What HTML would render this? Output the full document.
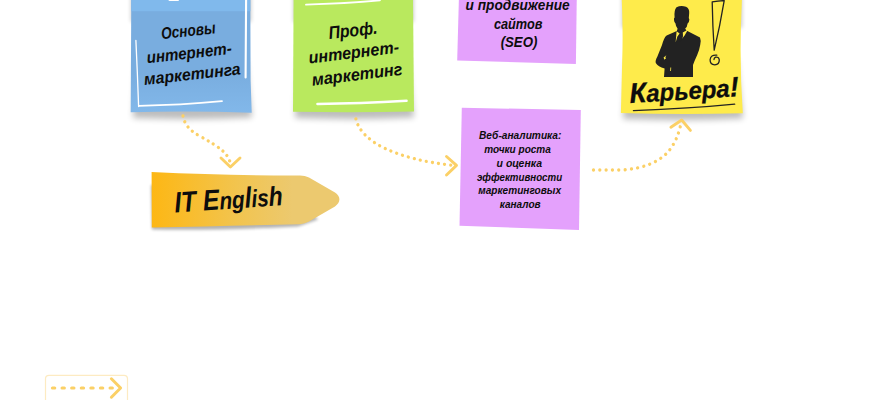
<!DOCTYPE html>
<html lang="ru">
<head>
<meta charset="utf-8">
<title>Карьера в интернет-маркетинге</title>
<style>
html,body{margin:0;padding:0;background:#fff;}
body{width:870px;height:400px;overflow:hidden;position:relative;}
svg{position:absolute;left:0;top:0;display:block;}
.hw{font-family:"Liberation Sans","DejaVu Sans",sans-serif;font-weight:bold;font-style:italic;fill:#0d0d0d;}
.arrow{fill:none;stroke:#fbd066;stroke-linecap:round;stroke-linejoin:round;}
</style>
</head>
<body>
<svg width="870" height="400" viewBox="0 0 870 400">
<defs>
  <filter id="blur3" x="-20%" y="-20%" width="140%" height="160%"><feGaussianBlur stdDeviation="3"/></filter>
  <filter id="blur2" x="-20%" y="-20%" width="140%" height="160%"><feGaussianBlur stdDeviation="2"/></filter>
  <linearGradient id="gOrange" x1="0" y1="0" x2="1" y2="0">
    <stop offset="0" stop-color="#fdb714"/>
    <stop offset="0.45" stop-color="#f2c44e"/>
    <stop offset="0.75" stop-color="#ecc96f"/>
    <stop offset="1" stop-color="#ecc96f"/>
  </linearGradient>
  <linearGradient id="gBlue" gradientUnits="userSpaceOnUse" x1="0" y1="11" x2="0" y2="113">
    <stop offset="0" stop-color="#79addf"/>
    <stop offset="0.6" stop-color="#79addf"/>
    <stop offset="1" stop-color="#82b8ea"/>
  </linearGradient>
  <filter id="blur15" x="-20%" y="-20%" width="140%" height="160%"><feGaussianBlur stdDeviation="1.6"/></filter>
</defs>

<!-- ===== blue note ===== -->
<rect x="131" y="-12" width="120" height="34" fill="#000" opacity="0.22" filter="url(#blur2)"/>
<path d="M136 60 L246 60 L252 117.5 Q192 120.5 133 118 Z" fill="#000" opacity="0.26" filter="url(#blur3)"/>
<path d="M131.3 -5 L250.3 -5 L250.6 80 L251.7 112.7 Q190 110.6 130.7 112.2 Z" fill="url(#gBlue)"/>
<path d="M131.3 -5 L250.3 -5 L250.35 11.3 L131.3 11.3 Z" fill="#80b9ec"/>
<g fill="none" stroke="#fff" stroke-linecap="round">
  <path d="M135.9 40.5 L137.3 72 L138.6 106.5" stroke-width="1.3"/>
  <path d="M139 105.8 Q180 105.2 222 101.2" stroke-width="1.8"/>
  <path d="M246.1 -2 L245.6 77.5" stroke-width="2.1"/>
  <path d="M169.5 0 L178 0" stroke-width="2"/>
</g>
<g class="hw" font-size="16.5">
  <text transform="translate(161.8 39.2) rotate(-6.3)" textLength="54.5" lengthAdjust="spacingAndGlyphs">Основы</text>
  <text transform="translate(147.2 63.2) rotate(-6.3)" textLength="85.5" lengthAdjust="spacingAndGlyphs">интернет-</text>
  <text transform="translate(144.6 85) rotate(-6.3)" textLength="97" lengthAdjust="spacingAndGlyphs">маркетинга</text>
</g>

<!-- ===== green note ===== -->
<rect x="293.5" y="-12" width="120" height="34" fill="#000" opacity="0.22" filter="url(#blur2)"/>
<path d="M298 60 L408 60 L414 117.5 Q355 120.5 295 118 Z" fill="#000" opacity="0.26" filter="url(#blur3)"/>
<path d="M293.6 -5 L413 -5 L414 111.5 Q352 112.7 293 111.7 Z" fill="#b9e95e"/>
<g fill="none" stroke="#fff" stroke-linecap="round">
  <path d="M306 4.6 Q345 3.5 380 0.3" stroke-width="1.8"/>
  <path d="M317.5 104 Q360 103.5 406.5 100.8" stroke-width="2.6"/>
</g>
<g class="hw" font-size="17">
  <text transform="translate(329.2 39) rotate(-6.3)" textLength="49" lengthAdjust="spacingAndGlyphs" font-size="18">Проф.</text>
  <text transform="translate(309.2 63.6) rotate(-7)" textLength="91" lengthAdjust="spacingAndGlyphs">интернет-</text>
  <text transform="translate(312.5 85.7) rotate(-7)" textLength="91" lengthAdjust="spacingAndGlyphs">маркетинг</text>
</g>

<!-- ===== purple note 1 ===== -->
<path d="M459 -5 L576.8 -5 L575.9 64.1 L457.2 60.4 Z" fill="#e4a1fc"/>
<g class="hw" font-size="15" text-anchor="middle">
  <text x="517.5" y="-8.7" textLength="98" lengthAdjust="spacingAndGlyphs">Создание</text>
  <text x="517.6" y="9.8" textLength="104" lengthAdjust="spacingAndGlyphs">и продвижение</text>
  <text x="518.2" y="29" textLength="48.5" lengthAdjust="spacingAndGlyphs">сайтов</text>
  <text x="519" y="47" textLength="36.7" lengthAdjust="spacingAndGlyphs">(SEO)</text>
</g>

<!-- ===== purple note 2 ===== -->
<path d="M461.8 107.7 L580.8 110 L579 230 L459.5 225.8 Z" fill="#e4a1fc"/>
<g class="hw" font-size="10.4" lengthAdjust="spacingAndGlyphs">
  <text x="479" y="139.4" textLength="82.4" lengthAdjust="spacingAndGlyphs">Веб-аналитика:</text>
  <text x="484.3" y="153.2" textLength="66.5" lengthAdjust="spacingAndGlyphs">точки роста</text>
  <text x="496.6" y="166.9" textLength="45.4" lengthAdjust="spacingAndGlyphs">и оценка</text>
  <text x="477.1" y="180.6" textLength="85" lengthAdjust="spacingAndGlyphs">эффективности</text>
  <text x="478.3" y="194.2" textLength="82.7" lengthAdjust="spacingAndGlyphs">маркетинговых</text>
  <text x="499.7" y="207.9" textLength="40.9" lengthAdjust="spacingAndGlyphs">каналов</text>
</g>

<!-- ===== yellow note ===== -->
<rect x="622" y="-12" width="120" height="40" fill="#000" opacity="0.22" filter="url(#blur2)"/>
<path d="M626 60 L737 60 L743 118.5 Q682 121.5 623 119 Z" fill="#000" opacity="0.26" filter="url(#blur3)"/>
<path d="M621.6 -5 Q623.2 35 622.2 60 L620.9 113 Q681 114.8 742.8 113.2 Q738.7 55 742.2 -5 Z" fill="#feeb4b"/>
<!-- businessman silhouette -->
<path fill="#222" d="M676.5 7.2 Q681 5.2 686 6.8 Q689.6 8.6 689.2 13 L688.8 18 Q689.8 19 689 21.5 Q688.4 23.2 687.6 23.4 Q687.2 27.2 685.2 28.6 L686.4 30.4 L700 37.6 Q701.2 40 700.2 45 Q699.4 50 697.2 55 Q694.4 61 693 65 L693 77 L664 77 L664.6 68.4 Q658 66.6 655.8 63 Q655 60.4 657.4 56.4 L662 45 Q664 37.4 666.6 35.4 L676.8 31 L677.6 28.8 Q675.8 26.4 675.4 23.2 Q674.2 22.4 674 20 Q673.6 18.2 674.6 17.6 Q673.8 10.2 676.5 7.2 Z"/>
<path fill="#feeb4b" d="M676.6 31.2 L679.6 33.4 L677.4 36.5 L675.6 42.6 Z M688 29.6 L682.8 32.6 L682.9 35.6 L682 38.8 L684.6 35.4 Z M663.6 57.6 L666.4 55.2 L665.2 57.4 L666.2 58 L664.4 59.8 Z M670.4 67.6 L671.2 67.6 L671 71 L670.2 71 Z"/>
<path fill="#222" d="M680.4 33.6 L682.2 33.6 L682.8 36.4 L681.6 40.6 L679.2 42 L679.8 36 Z"/>
<!-- exclamation outline -->
<g fill="none" stroke="#222" stroke-width="1.3" stroke-linejoin="round" stroke-linecap="round">
  <path d="M712.2 1.8 Q718 0.8 724.2 0.6 Q720 26 714.2 50.2 Q712.6 26 712.2 1.8 Z"/>
  <path d="M716.8 55.2 Q710.6 54.6 710.1 59.8 Q710 64.6 714.8 64.8 Q719.4 64.6 719.3 59.8 Q718.6 56.4 715.6 57.2 Q714 58 714 59.6"/>
</g>
<g class="hw" font-size="28" stroke="#0d0d0d" stroke-width="0.3">
  <text transform="translate(630 103) rotate(-3.6)" textLength="109.5" lengthAdjust="spacingAndGlyphs">К<tspan font-size="24.5">арьера</tspan>!</text>
</g>
<path d="M633.4 110.6 Q690 108.6 734.7 104.2" fill="none" stroke="#222" stroke-width="1.3" stroke-linecap="round"/>

<!-- ===== IT English label ===== -->
<path d="M151 185 L300 200 L318 219.5 L298 226.5 Q220 230.5 152 229.5 Z" fill="#000" opacity="0.3" filter="url(#blur15)"/>
<path d="M151.6 172 Q230 175.6 300 175.4 Q305 175.4 309 177.6 L335 192.4 Q339.6 195.4 339.4 199.6 Q339.2 203.6 335 206.4 L309 221.6 Q305 224 300 224.2 Q230 226 151.8 227.6 Z" fill="url(#gOrange)"/>
<g class="hw" font-size="29">
  <text transform="translate(175 212.6) rotate(-4)" textLength="108.5" lengthAdjust="spacingAndGlyphs">IT E<tspan font-size="24.5">ng</tspan>l<tspan font-size="24.5">is</tspan><tspan font-size="27">h</tspan></text>
</g>

<!-- ===== arrows ===== -->
<g class="arrow">
  <path d="M183 116 Q185 128 199 135.6 Q214 144 221 149.4 Q228 155 230 162" stroke-width="3.3" stroke-dasharray="0.01 6.05"/>
  <path d="M221 158 L230.4 167 L240 158" stroke-width="2.9"/>
  <path d="M355.9 118.9 Q360 136 384 148 Q412 161 452 165.2" stroke-width="3.3" stroke-dasharray="0.01 6.15"/>
  <path d="M446.5 156.5 L456.5 165.4 L446.5 175" stroke-width="2.9"/>
  <path d="M593.5 170 L622 170 Q652 168 667 153 Q677 142 680.6 125" stroke-width="3.3" stroke-dasharray="0.01 6.3"/>
  <path d="M670.9 127.2 L681.7 120 L690.4 130.4" stroke-width="2.9"/>
</g>

<!-- ===== legend ===== -->
<rect x="45.5" y="375.3" width="82" height="40" rx="3.5" ry="3.5" fill="#fff" stroke="#fdebc2" stroke-width="1.2"/>
<g class="arrow" stroke="#fccc5e">
  <path d="M52.4 388 L112.5 388" stroke-width="3" stroke-dasharray="2.4 7.2"/>
  <path d="M111.4 378.8 L120.6 388 L111.4 397.2" stroke-width="3"/>
</g>
</svg>
</body>
</html>
